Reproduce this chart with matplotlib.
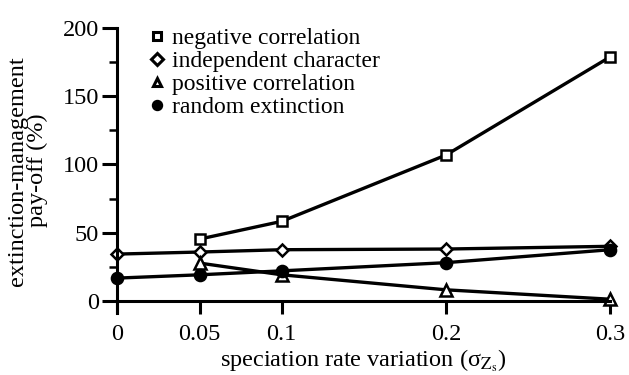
import matplotlib
matplotlib.use("Agg")
import matplotlib.pyplot as plt
from matplotlib.ticker import MultipleLocator

plt.rcParams["font.family"] = ["Liberation Serif", "DejaVu Serif"]
plt.rcParams["mathtext.fontset"] = "stix"

# data
sigma = [0, 0.05, 0.1, 0.2, 0.3]
sigma_neg = [0.05, 0.1, 0.2, 0.3]
negative = [45.3, 58.3, 106.9, 178.9]
independent = [34.3, 35.8, 37.5, 38.0, 40.0]
sigma_pos = [0.05, 0.1, 0.2, 0.3]
positive = [27.7, 19.1, 8.1, 1.2]
random_ext = [16.7, 19.1, 22.0, 28.0, 37.5]

x_ticks = [0, 0.05, 0.1, 0.2, 0.3]
x_ticklabels = ["0", "0.05", "0.1", "0.2", "0.3"]

fig = plt.figure(figsize=(6.29, 3.75), dpi=100)
# y range -9..200 so the left spine runs a little below the zero line
ax = fig.add_axes([0.1868, 0.165, 0.7832, 0.76])

lw = 2.4
common = dict(color="black", lw=lw, mec="black", mew=1.8, clip_on=False)
ax.plot(sigma_neg, negative, "-s", ms=7.5, mfc="white",
        label="negative correlation", **common)
ax.plot(sigma, independent, "-D", ms=6.5, mfc="white",
        label="independent character", **common)
ax.plot(sigma_pos, positive, "-^", ms=8.5, mfc="white",
        label="positive correlation", **common)
ax.plot(sigma, random_ext, "-o", ms=8, mfc="black",
        label="random extinction", **common)

ax.set_xlim(0, 0.3)
ax.set_ylim(-9, 200)
ax.spines["top"].set_visible(False)
ax.spines["right"].set_visible(False)
ax.spines["bottom"].set_position(("data", 0))
ax.spines["left"].set_linewidth(2.2)
ax.spines["bottom"].set_linewidth(2.2)

ax.set_xticks(x_ticks)
ax.set_xticklabels(x_ticklabels)
ax.set_yticks([0, 50, 100, 150, 200])
ax.yaxis.set_minor_locator(MultipleLocator(25))
ax.tick_params(axis="x", direction="out", length=9.5, width=2.2, labelsize=17.5, pad=7)
ax.tick_params(axis="y", which="major", direction="out", length=10.5, width=2.2,
               labelsize=17.5, pad=3)
ax.tick_params(axis="y", which="minor", direction="out", length=6, width=1.8)

ax.set_xlabel("speciation rate variation (σ$_{\\mathrm{Z_s}}$)", fontsize=17.5, labelpad=2)
ax.set_ylabel("extinction-management\npay-off (%)", fontsize=17.5, labelpad=10,
              linespacing=0.95)

leg = ax.legend(loc="upper left", bbox_to_anchor=(0.05, 1.035), frameon=False,
                fontsize=17, handlelength=0.5, handletextpad=0.35,
                labelspacing=0.06, borderaxespad=0)
for h in leg.legend_handles:
    h.set_linestyle("none")
    h.set_markersize(6)
    h.set_markeredgewidth(2.2)

fig.savefig("out.png", dpi=100)
